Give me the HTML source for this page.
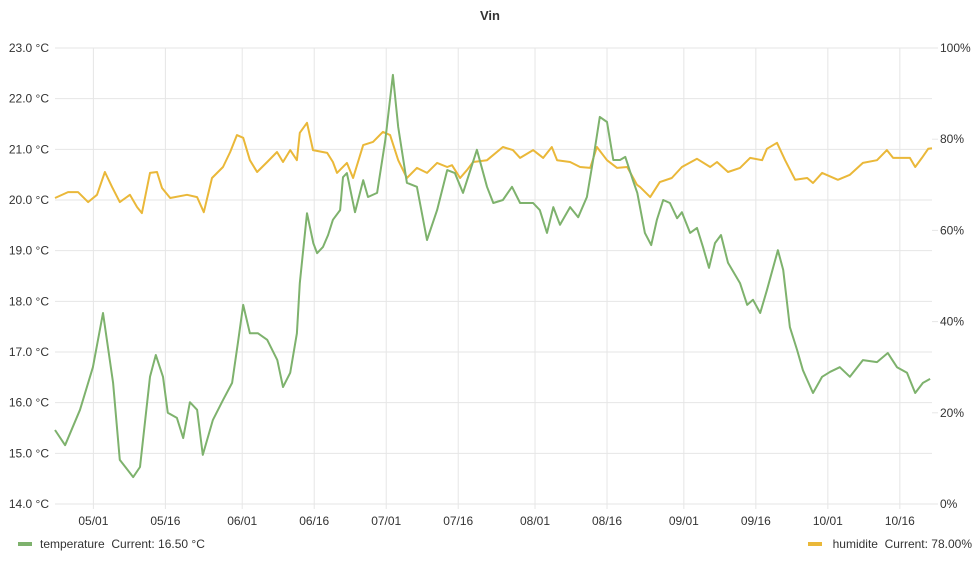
<!DOCTYPE html>
<html><head><meta charset="utf-8"><style>
html,body{margin:0;padding:0;background:#fff;}
body{width:980px;height:560px;overflow:hidden;font-family:"Liberation Sans",sans-serif;}
</style></head><body>
<svg id="chart" width="980" height="560" xmlns="http://www.w3.org/2000/svg" font-family="Liberation Sans, sans-serif">
<text x="490" y="20" text-anchor="middle" font-size="13" font-weight="bold" fill="#333">Vin</text>
<g id="grid"></g>
<g id="axes"></g>
<g id="series"></g>
<g>
<g>
<rect x="18" y="542" width="14" height="4" fill="#7eb26d"/>
<text x="40" y="548" font-size="12" fill="#333">temperature&#160;&#160;Current: 16.50 °C</text>
</g>
<g>
<rect x="808" y="542" width="14" height="4" fill="#eab839"/>
<text x="972" y="548" font-size="12" fill="#333" text-anchor="end">humidite&#160;&#160;Current: 78.00%</text>
</g>
</g>
</svg>
<script>
const tempDays=[0,2.1,5.2,7.9,10,12.1,13.5,16.3,17.7,19.8,21,22.5,23.5,25.4,26.7,28.1,29.6,30.8,32.9,35,36.9,38.1,39.2,40.6,42.3,44.2,46.3,47.5,49,50.4,51,52.5,53.8,54.6,55.8,56.9,57.9,59.4,60,60.8,62.5,64.2,65.2,67.1,68.8,70.4,71.5,73.3,75.4,77.5,79.6,81.7,83.3,85,87.9,90,91.3,93.3,95.2,96.9,99.6,101,102.5,103.8,105.2,107.3,109,110.8,112.1,113.5,115,116.3,117.7,118.8,120.4,121.3,122.9,124.2,125.4,126.7,128.1,129.6,130.6,132.3,133.75,135,136.25,137.5,138.75,140.2,142.7,144.2,145.4,146.9,148.3,150.6,151.7,153.1,154.6,155.8,157.9,159.8,161.5,163.5,165.6,168.3,171.25,173.5,175.4,177.5,179.2,180.8,182.3];
const tempValues=[15.46,15.16,15.86,16.70,17.77,16.39,14.87,14.53,14.73,16.51,16.94,16.51,15.80,15.70,15.30,16.01,15.86,14.97,15.66,16.05,16.39,17.18,17.93,17.37,17.37,17.24,16.84,16.31,16.59,17.37,18.36,19.74,19.15,18.95,19.07,19.31,19.61,19.80,20.45,20.53,19.76,20.39,20.06,20.14,21.18,22.47,21.44,20.34,20.26,19.21,19.80,20.59,20.53,20.14,20.99,20.26,19.94,20.00,20.26,19.94,19.94,19.80,19.35,19.86,19.51,19.86,19.66,20.06,20.79,21.64,21.54,20.79,20.79,20.85,20.39,20.14,19.35,19.11,19.61,20.00,19.94,19.64,19.76,19.35,19.45,19.07,18.66,19.15,19.31,18.76,18.36,17.93,18.03,17.77,18.22,19.01,18.62,17.49,17.04,16.64,16.19,16.51,16.61,16.70,16.51,16.84,16.80,16.98,16.70,16.59,16.19,16.39,16.47];
const humDays=[0,2.7,4.8,6.9,8.75,10.4,11.9,13.5,15.6,17.1,18.1,19.8,21.25,22.3,24,27.5,29.6,31,32.7,35,36.5,37.9,39.2,40.6,42.1,44.2,46.25,47.5,49,50.4,51,52.5,53.75,56.7,57.9,58.75,60.8,62.1,64.2,66.25,68.3,69.8,71.5,73.3,75.4,77.5,79.6,81.7,82.7,84.4,85.8,87.1,90,93.3,95.4,96.9,99.6,101.7,103.5,104.6,107.3,109.4,111.5,112.9,115,117.1,119.2,121.25,121.9,124,126,128.5,130.6,133.75,136.5,137.9,140.2,142.7,144.8,147.3,148.3,150.4,152.1,154.2,156.7,157.9,159.8,163.1,165.6,168.3,171.25,173.3,174.6,178.1,179.2,180.6,181.9,182.7];
const humValues=[67.1,68.4,68.4,66.2,67.8,72.8,69.5,66.2,67.8,65.1,63.8,72.6,72.8,69.3,67.1,67.8,67.3,64.0,71.5,73.9,77.2,80.9,80.3,75.4,72.8,75.0,77.2,75.0,77.6,75.4,81.4,83.6,77.6,77.0,75.0,72.6,74.8,71.5,78.7,79.4,81.6,80.9,75.4,71.5,73.7,72.6,74.8,73.9,74.3,71.5,73.2,75.0,75.4,78.3,77.6,75.9,77.6,75.9,78.3,75.4,75.0,73.9,73.7,78.3,75.4,73.7,73.9,70.0,69.5,67.3,70.6,71.5,73.9,75.7,73.9,75.0,72.8,73.7,75.9,75.4,77.9,79.2,75.4,71.1,71.5,70.4,72.6,71.1,72.2,74.8,75.4,77.6,75.9,75.9,73.9,75.9,77.9,78.0];
const xTickDays=[8,23,39,54,69,84,100,115,131,146,161,176];
const xTickLabels=["05/01","05/16","06/01","06/16","07/01","07/16","08/01","08/16","09/01","09/16","10/01","10/16"];
const leftTicks=[14,15,16,17,18,19,20,21,22,23];
const rightTicks=[0,20,40,60,80,100];

const X0=55,X1=932,Y0=504,Y1=48,DMAX=182.7;
const xs=d=>X0+d*(X1-X0)/DMAX;
const yT=t=>Y0-(t-14)*(Y0-Y1)/9;
const yH=h=>Y0-h*(Y0-Y1)/100;
const NS="http://www.w3.org/2000/svg";
function mk(tag,attrs,parent,txt){const e=document.createElementNS(NS,tag);for(const k in attrs)e.setAttribute(k,attrs[k]);if(txt!==undefined)e.textContent=txt;parent.appendChild(e);return e;}
const grid=document.getElementById('grid'),axes=document.getElementById('axes'),series=document.getElementById('series');
leftTicks.forEach(t=>{
  const l=mk('line',{x1:X0,x2:X1,y1:yT(t),y2:yT(t),stroke:'#e6e6e6','stroke-width':1},grid);
  
  
  const tx=mk('text',{x:49,y:yT(t)+4,'text-anchor':'end','font-size':12,fill:'#333'},axes,t.toFixed(1)+' °C');
  
  
});
rightTicks.forEach(h=>{
  const tk=mk('line',{x1:X1,x2:X1+6,y1:yH(h),y2:yH(h),stroke:'#e6e6e6'},grid);
  
  
  const tx=mk('text',{x:X1+8,y:yH(h)+4,'font-size':12,fill:'#333'},axes,h+'%');
  
  
});
xTickDays.forEach((d,i)=>{
  const l=mk('line',{x1:xs(d),x2:xs(d),y1:Y1,y2:Y0+5,stroke:'#e6e6e6'},grid);
  
  
  const tx=mk('text',{x:xs(d),y:525,'text-anchor':'middle','font-size':12,fill:'#333'},axes,xTickLabels[i]);
  
  
});
function path(days,vals,yf){return days.map((d,i)=>(i?'L':'M')+xs(d).toFixed(1)+','+yf(vals[i]).toFixed(1)).join('');}
const ph=mk('path',{d:path(humDays,humValues,yH),fill:'none',stroke:'#eab839','stroke-width':2,'stroke-linejoin':'round'},series);


const pt=mk('path',{d:path(tempDays,tempValues,yT),fill:'none',stroke:'#7eb26d','stroke-width':2,'stroke-linejoin':'round'},series);


</script>
</body></html>
